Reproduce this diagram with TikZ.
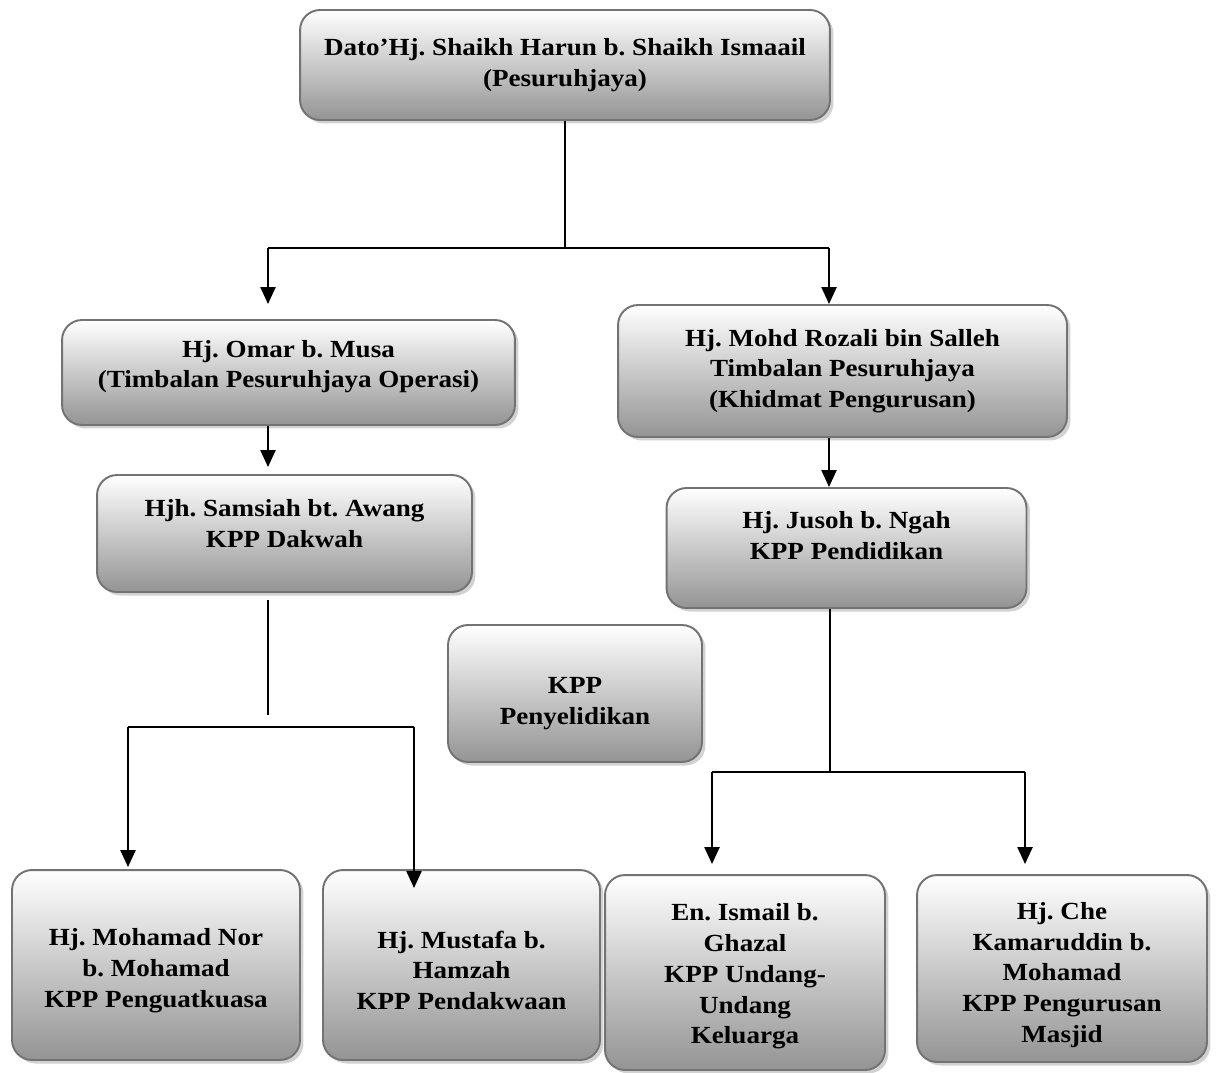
\documentclass[tikz,border=0pt]{standalone}
\usepackage{fontspec}
\setmainfont[FakeStretch=1.1]{Liberation Serif}
\usetikzlibrary{arrows.meta,shadows}
\frenchspacing

\tikzset{
  orgbox/.style={rounded corners=0.4cm, draw=black!55, line width=1.1pt,
    top color=white, bottom color=black!42,
    drop shadow={shadow xshift=0.07cm, shadow yshift=-0.07cm, fill=black!35},
    align=center, inner sep=2pt,
    font=\bfseries\fontsize{14}{17.5}\selectfont},
  link/.style={line width=0.9pt},
  arr/.style={line width=1.3pt, -{Triangle[width=0.3cm,length=0.34cm]}},
}
% struts to move text off the box centre
\newcommand{\uplift}[1]{\rule[-#1]{0pt}{0pt}}
\newcommand{\downlift}[1]{\rule{0pt}{#1}}

\begin{document}
\begin{tikzpicture}[x=0.02cm, y=-0.02cm]
  \useasboundingbox (0,0) rectangle (1219,1072);

  % Boxes
  \node[orgbox, minimum width=10.6cm, minimum height=2.2cm] (top) at (565,65)
    {Dato’Hj. Shaikh Harun b. Shaikh Ismaail\\(Pesuruhjaya)};
  \node[orgbox, minimum width=9.06cm, minimum height=2.1cm] (omar) at (288.5,372.5)
    {Hj. Omar b. Musa\\(Timbalan Pesuruhjaya Operasi)\uplift{0.34cm}};
  \node[orgbox, minimum width=8.98cm, minimum height=2.64cm] (rozali) at (842.5,371)
    {Hj. Mohd Rozali bin Salleh\\Timbalan Pesuruhjaya\\(Khidmat Pengurusan)};
  \node[orgbox, minimum width=7.5cm, minimum height=2.34cm] (sams) at (284.5,533.5)
    {Hjh. Samsiah bt. Awang\\KPP Dakwah\uplift{0.4cm}};
  \node[orgbox, minimum width=7.2cm, minimum height=2.4cm] (jusoh) at (846.5,548)
    {Hj. Jusoh b. Ngah\\KPP Pendidikan\uplift{0.5cm}};
  \node[orgbox, minimum width=5.08cm, minimum height=2.74cm] (peny) at (575,693.5)
    {\downlift{0.73cm}KPP\\Penyelidikan};
  \node[orgbox, minimum width=5.76cm, minimum height=3.8cm] (nor) at (156,965)
    {\downlift{0.56cm}Hj. Mohamad Nor\\b. Mohamad\\KPP Penguatkuasa};
  \node[orgbox, minimum width=5.54cm, minimum height=3.8cm] (must) at (461.5,965)
    {\downlift{0.56cm}Hj. Mustafa b.\\Hamzah\\KPP Pendakwaan};
  \node[orgbox, minimum width=5.6cm, minimum height=3.9cm] (ismail) at (745,972.5)
    {\downlift{0.5cm}En. Ismail b.\\Ghazal\\KPP Undang-\\Undang\\Keluarga};
  \node[orgbox, minimum width=5.8cm, minimum height=3.74cm] (che) at (1062,968.5)
    {\downlift{0.6cm}Hj. Che\\Kamaruddin b.\\Mohamad\\KPP Pengurusan\\Masjid};

  % Bend points
  \coordinate (j1) at (565,248);
  \coordinate (lt) at (268,248);
  \coordinate (rt) at (829,248);
  \coordinate (s1) at (268,600);
  \coordinate (s2) at (268,715);
  \coordinate (bl) at (128,727);
  \coordinate (br) at (414,727);
  \coordinate (me) at (414,888);
  \coordinate (jm) at (830,772);
  \coordinate (il) at (712,772);
  \coordinate (cr) at (1025,772);

  % Connectors
  \draw[link] (top.south) -- (j1);
  \draw[link] (lt) -- (rt);
  \draw[arr] (lt) -- (lt |- rozali.north);
  \draw[arr] (rt) -- (rt |- rozali.north);
  \draw[arr] (omar.south -| lt) -- ([yshift=0.14cm]sams.north -| lt);
  \draw[arr] (rozali.south -| rt) -- (jusoh.north -| rt);

  \draw[link] (s1) -- (s2);
  \draw[link] (bl) -- (br);
  \draw[arr] (bl) -- ([yshift=0.04cm]bl |- nor.north);
  \draw[arr] (br) -- (me);

  \draw[link] (jusoh.south -| jm) -- (jm);
  \draw[link] (il) -- (cr);
  \draw[arr] (il) -- ([yshift=0.2cm]il |- ismail.north);
  \draw[arr] (cr) -- ([yshift=0.2cm]cr |- che.north);
\end{tikzpicture}
\end{document}
